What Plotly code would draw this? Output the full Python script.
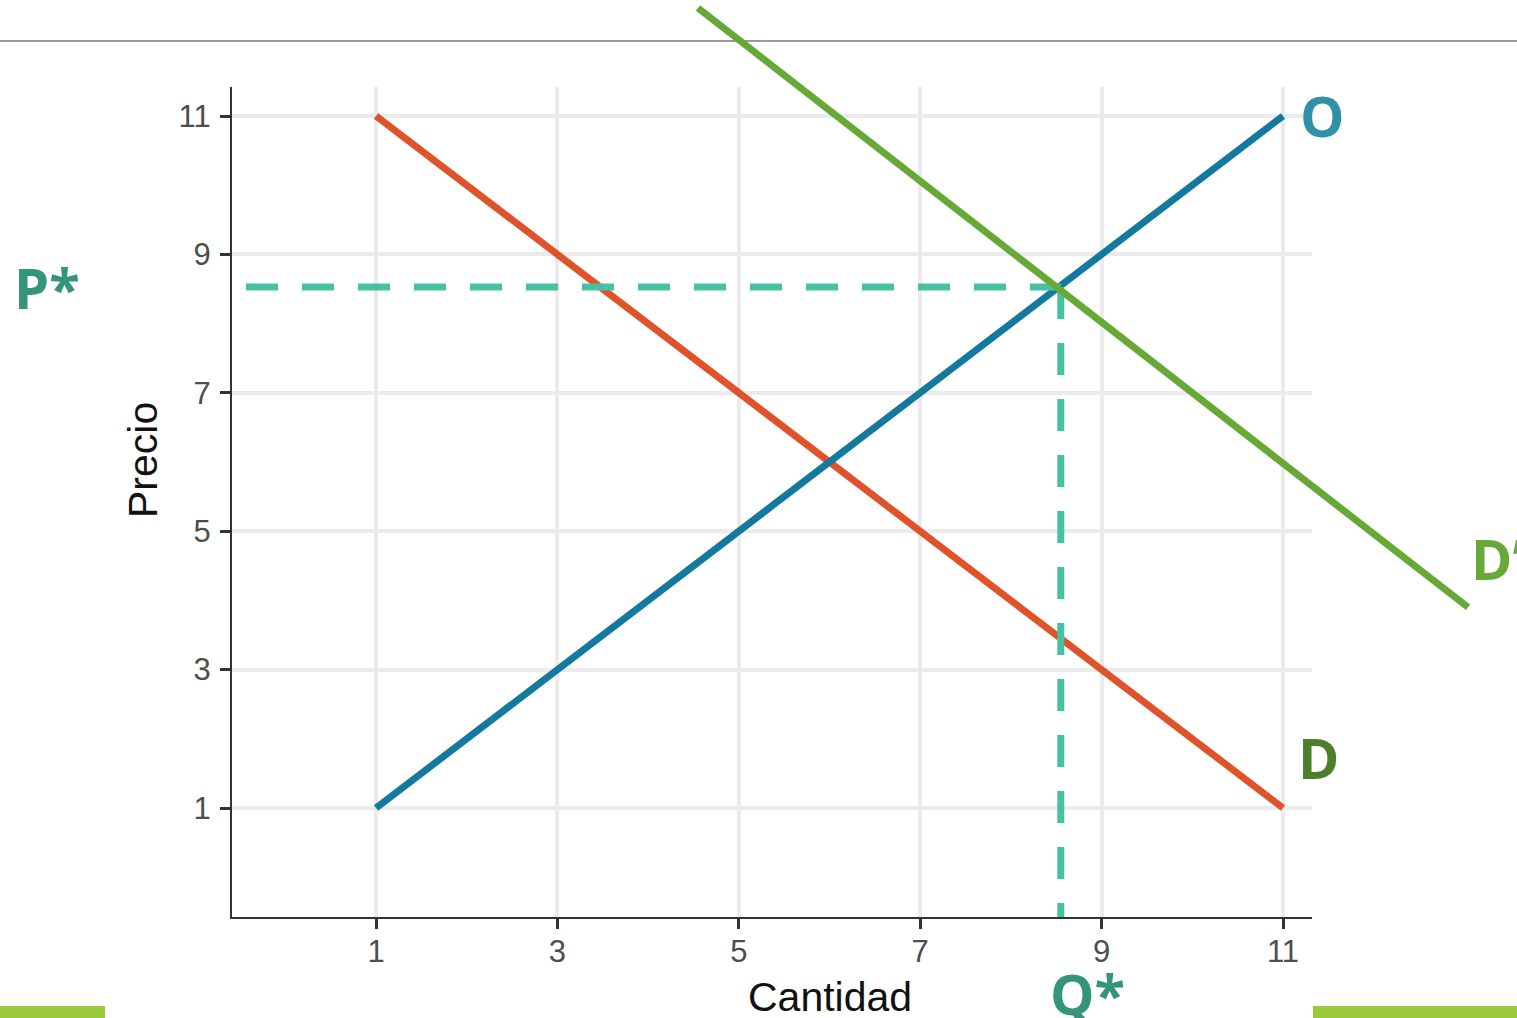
import plotly.graph_objects as go

# ---- data ----
demand_q = [1, 11]
demand_p = [11, 1]
supply_q = [1, 11]
supply_p = [1, 11]
dprime_q = [4.55, 13.04]
dprime_p = [12.56, 3.9]
q_star = 8.55
p_star = 8.53
tick_vals = [1, 3, 5, 7, 9, 11]
tick_text = ["1", "3", "5", "7", "9", "11"]

W, H = 1517, 1018
# pixel geometry of panel
px_left, px_right, px_top, px_bottom = 232, 1312, 87, 917
px_x1, px_x11 = 376, 1283
px_y1, px_y11 = 808, 116
kx = (px_x11 - px_x1) / 10.0
ky = (px_y1 - px_y11) / 10.0
xr = [1 - (px_x1 - px_left) / kx, 11 + (px_right - px_x11) / kx]
yr = [1 - (px_bottom - px_y1) / ky, 11 + (px_y11 - px_top) / ky]
x2r = [1 - px_x1 / kx, 1 + (W - px_x1) / kx]
y2r = [11 - (H - px_y11) / ky, 11 + px_y11 / ky]
dash_start_x = 1 - (px_x1 - 246) / kx

RED = "#E0532A"
BLUE = "#13799F"
GREEN = "#67A937"
TEAL = "#46C1A2"

fig = go.Figure()
fig.add_trace(go.Scatter(x=demand_q, y=demand_p, mode="lines",
                         line=dict(color=RED, width=7), hoverinfo="skip"))
fig.add_trace(go.Scatter(x=supply_q, y=supply_p, mode="lines",
                         line=dict(color=BLUE, width=7), hoverinfo="skip"))
fig.add_trace(go.Scatter(x=[dash_start_x, q_star], y=[p_star, p_star], mode="lines",
                         line=dict(color=TEAL, width=7, dash="32px,24px"), hoverinfo="skip"))
fig.add_trace(go.Scatter(x=[q_star, q_star], y=[p_star, yr[0]], mode="lines",
                         line=dict(color=TEAL, width=7, dash="32px,24px"), hoverinfo="skip"))
fig.add_trace(go.Scatter(x=dprime_q, y=dprime_p, mode="lines", xaxis="x2", yaxis="y2",
                         line=dict(color=GREEN, width=7), hoverinfo="skip"))

axis_common = dict(
    tickvals=tick_vals, ticktext=tick_text,
    showgrid=True, gridcolor="#EBEBEB", gridwidth=4,
    zeroline=False, showline=True, linecolor="#333333", linewidth=2,
    ticks="outside", ticklen=10, tickwidth=3, tickcolor="#333333",
    tickfont=dict(family="Liberation Sans, Arial", size=31, color="#4D4D4D"),
)
fig.update_layout(
    width=W, height=H, autosize=False,
    margin=dict(l=0, r=0, t=0, b=0),
    paper_bgcolor="white", plot_bgcolor="rgba(0,0,0,0)",
    showlegend=False,
    xaxis=dict(domain=[px_left / W, px_right / W], range=xr, anchor="y",
               ticklabelstandoff=-4, **axis_common),
    yaxis=dict(domain=[(H - px_bottom) / H, (H - px_top) / H], range=yr, anchor="x",
               ticklabelstandoff=3, **axis_common),
    xaxis2=dict(domain=[0, 1], range=x2r, visible=False, anchor="y2", showgrid=False, zeroline=False),
    yaxis2=dict(domain=[0, 1], range=y2r, visible=False, anchor="x2", showgrid=False, zeroline=False),
)

# decorative slide elements
fig.add_shape(type="line", xref="paper", yref="paper", x0=0, x1=1,
              y0=(H - 41) / H, y1=(H - 41) / H, line=dict(color="#9A9A9A", width=2), layer="below")
fig.add_shape(type="rect", xref="paper", yref="paper", x0=0, x1=105 / W,
              y0=0, y1=12 / H, fillcolor="#9ACA3C", line=dict(width=0))
fig.add_shape(type="rect", xref="paper", yref="paper", x0=1313 / W, x1=1,
              y0=0, y1=12 / H, fillcolor="#9ACA3C", line=dict(width=0))

def ann(text, px, py, color, size=56, xanchor="center", family="Open Sans", bold=True, angle=0):
    fig.add_annotation(text=f"<b>{text}</b>" if bold else text,
                       x=px / W, y=(H - py) / H, xref="paper", yref="paper",
                       xanchor=xanchor, yanchor="middle", showarrow=False, textangle=angle,
                       font=dict(family=family, size=size, color=color))

ann("O", 1322, 115, "#2E91A8")
ann("D\u2019", 1469, 558, GREEN, xanchor="left")
ann("D", 1318, 757, "#4B7F2B")
ann("P*", 47, 287, "#34957A")
ann("Q*", 1087, 993, "#34957A")
ann("Cantidad", 830, 997, "#111111", size=41, family="Liberation Sans, Arial", bold=False)
ann("Precio", 143, 460, "#111111", size=41, family="Liberation Sans, Arial", bold=False, angle=-90)

fig.write_html(
    "out.html",
    config={"displayModeBar": False},
    post_script="document.body.style.margin='0';document.body.style.padding='0';"
                "document.body.style.overflow='hidden';",
)
